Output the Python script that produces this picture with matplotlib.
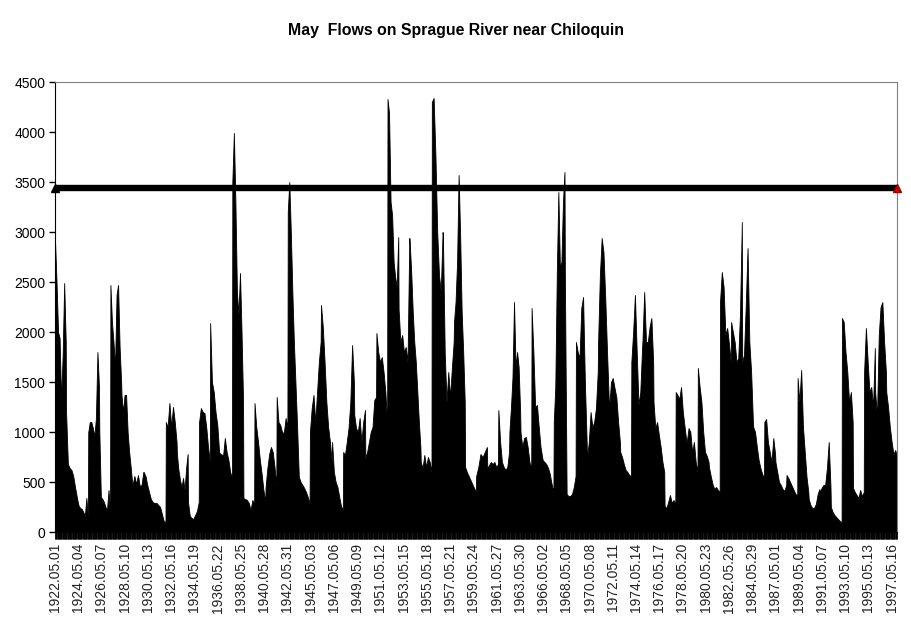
#%% GET LIBRARIES

import numpy as np
import matplotlib.pyplot as plt


#%% CHART DATA
# May flows, Sprague River near Chiloquin (cfs).
# A handful of readings per year, spread evenly over May 1-31.

years = list(range(1922, 1998))

flows_1920s = [
    [2920, 2500, 2000, 1940, 1320, 1770, 2490, 1900],   # 1922
    [1200, 680, 640, 620, 560, 450, 350],               # 1923
    [330, 260, 240, 230, 200, 160, 340, 150],           # 1924
    [1000, 1100, 1100, 1040, 960, 1140, 1800, 1450],    # 1925
    [1000, 350, 330, 300, 250, 220, 420, 180],          # 1926
    [2470, 2100, 1900, 1650, 2370, 2470, 1850, 1500],   # 1927
    [1370, 1200, 1370, 1370, 1000, 800, 650, 480],      # 1928
    [470, 560, 480, 570, 460, 470, 600],                # 1929
]
flows_1930s = [
    [600, 560, 470, 400, 330, 300, 290],                # 1930
    [290, 290, 270, 250, 180, 110, 100],                # 1931
    [1100, 1050, 1290, 1050, 1250, 1100, 900],          # 1932
    [780, 620, 520, 450, 540, 420, 640, 780],           # 1933
    [300, 160, 140, 130, 170, 210, 300],                # 1934
    [1100, 1240, 1200, 1190, 1050, 850, 700],           # 1935
    [2090, 1500, 1400, 1200, 1070, 800, 770],           # 1936
    [780, 760, 940, 800, 720, 600, 540],                # 1937
    [3500, 3990, 3300, 2400, 2170, 2590, 2000, 1300],   # 1938
    [340, 330, 320, 290, 220, 320, 280],                # 1939
]
flows_1940s = [
    [1290, 1050, 900, 720, 580, 420, 300],              # 1940
    [450, 640, 780, 850, 800, 650, 460],                # 1941
    [1350, 1100, 1070, 1000, 990, 1140, 1050],          # 1942
    [3200, 3500, 3000, 2400, 1900, 1500, 1100, 650],    # 1943
    [550, 500, 470, 440, 400, 350, 280],                # 1944
    [1000, 1240, 1370, 1100, 1400, 1700, 1900],         # 1945
    [2270, 2050, 1700, 1300, 1050, 900, 700],           # 1946
    [900, 600, 500, 450, 350, 260, 220],                # 1947
    [800, 770, 900, 1040, 1300, 1870, 1500],            # 1948
    [1170, 1040, 1000, 1140, 900, 1100, 1220],          # 1949
]
flows_1950s = [
    [740, 800, 900, 1000, 1050, 1320, 1350],            # 1950
    [1990, 1800, 1700, 1750, 1600, 1400, 1070],         # 1951
    [4330, 4190, 3300, 3170, 2700, 2550, 2450, 2950],   # 1952
    [2230, 1900, 1970, 1800, 1850, 1700, 2940],         # 1953
    [2900, 2600, 2200, 1900, 1700, 1400, 1100, 850],    # 1954
    [700, 640, 770, 650, 750, 700, 600],                # 1955
    [4300, 4340, 3770, 3000, 2570, 2400, 3000],         # 1956
    [2970, 1800, 1300, 1600, 1350, 1640, 1900],         # 1957
    [2100, 2300, 2700, 3570, 2970, 2200, 1800, 1300],   # 1958
    [650, 600, 560, 520, 480, 440, 400],                # 1959
]
flows_1960s = [
    [560, 650, 780, 750, 800, 850],                     # 1960
    [640, 670, 700, 680, 700, 650, 680],                # 1961
    [1220, 900, 700, 650, 620, 650, 800],               # 1962
    [1000, 1250, 1550, 2300, 1650, 1800, 1650, 1200],   # 1963
    [1000, 850, 940, 950, 850, 700, 640],               # 1964
    [2240, 1800, 1250, 1270, 1050, 850, 740],           # 1965
    [720, 700, 680, 640, 580, 480, 400],                # 1966
    [1100, 1450, 2600, 3400, 2650, 2700, 3300, 3600],   # 1967
    [2600, 380, 360, 360, 380, 450, 560],               # 1968
    [1900, 1800, 1740, 2240, 2350, 1500, 900],          # 1969
]
flows_1970s = [
    [740, 900, 1200, 1050, 1100, 1240, 1600],           # 1970
    [1900, 2570, 2940, 2800, 2340, 1800, 1300],         # 1971
    [1240, 1500, 1540, 1440, 1350, 1100, 900],          # 1972
    [800, 750, 680, 620, 600, 570, 560],                # 1973
    [1700, 2000, 2370, 1800, 1270, 1400, 1840],         # 1974
    [1900, 2400, 1900, 1900, 2050, 2140, 1700],         # 1975
    [1300, 1040, 1100, 970, 850, 700, 600],             # 1976
    [260, 240, 300, 370, 290, 320, 280],                # 1977
    [1400, 1370, 1330, 1450, 1200, 1050, 900],          # 1978
    [900, 1040, 1000, 800, 900, 700, 600],              # 1979
]
flows_1980s = [
    [1640, 1450, 1300, 1000, 800, 760, 700],            # 1980
    [650, 560, 480, 430, 450, 420, 400],                # 1981
    [2300, 2600, 2450, 1970, 2040, 1880, 1700],         # 1982
    [2100, 2000, 1900, 1700, 1740, 2200, 3100],         # 1983
    [1700, 1770, 2270, 2840, 1900, 1600, 1100],         # 1984
    [1050, 1000, 850, 720, 640, 580, 540],              # 1985
    [1100, 1130, 900, 800, 700, 940, 780],              # 1986
    [700, 600, 500, 470, 430, 410, 470],                # 1987
    [570, 540, 500, 460, 420, 380, 370],                # 1988
    [1540, 1300, 1620, 1050, 800, 550, 400],            # 1989
]
flows_1990s = [
    [330, 270, 240, 240, 280, 380, 430],                # 1990
    [400, 440, 470, 470, 640, 900, 450],                # 1991
    [250, 200, 170, 150, 130, 110, 100],                # 1992
    [2140, 2100, 1800, 1600, 1300, 1400, 1100],         # 1993
    [440, 400, 370, 340, 420, 360, 400],                # 1994
    [1600, 2040, 1700, 1400, 1450, 1250, 1840],         # 1995
    [1400, 1150, 1970, 2250, 2300, 1900, 1600],         # 1996
    [1400, 1250, 1050, 900, 780, 820, 760],             # 1997
]

# flat line drawn across the whole chart
threshold_flow = 3440

tick_labels = [
    '1922.05.01', '1924.05.04', '1926.05.07', '1928.05.10', '1930.05.13',
    '1932.05.16', '1934.05.19', '1936.05.22', '1938.05.25', '1940.05.28',
    '1942.05.31', '1945.05.03', '1947.05.06', '1949.05.09', '1951.05.12',
    '1953.05.15', '1955.05.18', '1957.05.21', '1959.05.24', '1961.05.27',
    '1963.05.30', '1966.05.02', '1968.05.05', '1970.05.08', '1972.05.11',
    '1974.05.14', '1976.05.17', '1978.05.20', '1980.05.23', '1982.05.26',
    '1984.05.29', '1987.05.01', '1989.05.04', '1991.05.07', '1993.05.10',
    '1995.05.13', '1997.05.16',
]


#%% PUT EVERY READING ON A DAY AXIS (one slot per May day, years back to back)

DAYS_IN_MAY = 31
flows_by_year = (flows_1920s + flows_1930s + flows_1940s + flows_1950s
                 + flows_1960s + flows_1970s + flows_1980s + flows_1990s)

x_day = []
y_flow = []
for k, vals in enumerate(flows_by_year):
    day_pos = np.linspace(0, DAYS_IN_MAY - 1, len(vals))
    x_day.extend(k * DAYS_IN_MAY + day_pos)
    y_flow.extend(vals)

n_days = len(years) * DAYS_IN_MAY

# label text -> day slot
tick_pos = []
for lab in tick_labels:
    yr, mo, dd = lab.split('.')
    tick_pos.append((int(yr) - years[0]) * DAYS_IN_MAY + int(dd) - 1)


#%% PLOT

plt.rcParams['font.family'] = ['Liberation Sans', 'DejaVu Sans']

fig = plt.figure(figsize=(9.11, 6.23), dpi=100)
ax = fig.add_axes([55 / 911, 91 / 623, 842 / 911, 450 / 623])

ax.fill_between(x_day, y_flow, 0, color='black', linewidth=0.6, edgecolor='black')

# threshold line with the triangle markers at both ends
ax.plot([0, n_days - 1], [threshold_flow, threshold_flow], color='black',
        linewidth=4.6, solid_capstyle='butt', zorder=3)
ax.plot([0], [threshold_flow], marker='^', color='black', markersize=6,
        linestyle='none', clip_on=False, zorder=4)
ax.plot([n_days - 1], [threshold_flow], marker='^', color='#cc0000',
        markeredgecolor='#990000', markersize=6, linestyle='none',
        clip_on=False, zorder=4)

ax.set_xlim(0, n_days - 1)
ax.set_ylim(0, 4500)
ax.set_yticks(range(0, 4501, 500))
ax.set_xticks(tick_pos)
ax.set_xticklabels(tick_labels, rotation=90, fontsize=10, color='#222222')
# Excel drew a tick for every day, which merges into a solid band
ax.set_xticks(np.arange(n_days), minor=True)
ax.tick_params(axis='x', which='both', length=5, width=0.5, color='black', pad=3)
ax.tick_params(axis='y', length=4, width=1, labelsize=10, pad=3)

for side in ['top', 'right']:
    ax.spines[side].set_color('#808080')
for side in ['left', 'bottom']:
    ax.spines[side].set_color('black')

fig.text(0.5, 1 - 31 / 623, 'May  Flows on Sprague River near Chiloquin',
         ha='center', va='center', fontsize=11.4, fontweight='bold')

fig.savefig('out.png', dpi=100)
